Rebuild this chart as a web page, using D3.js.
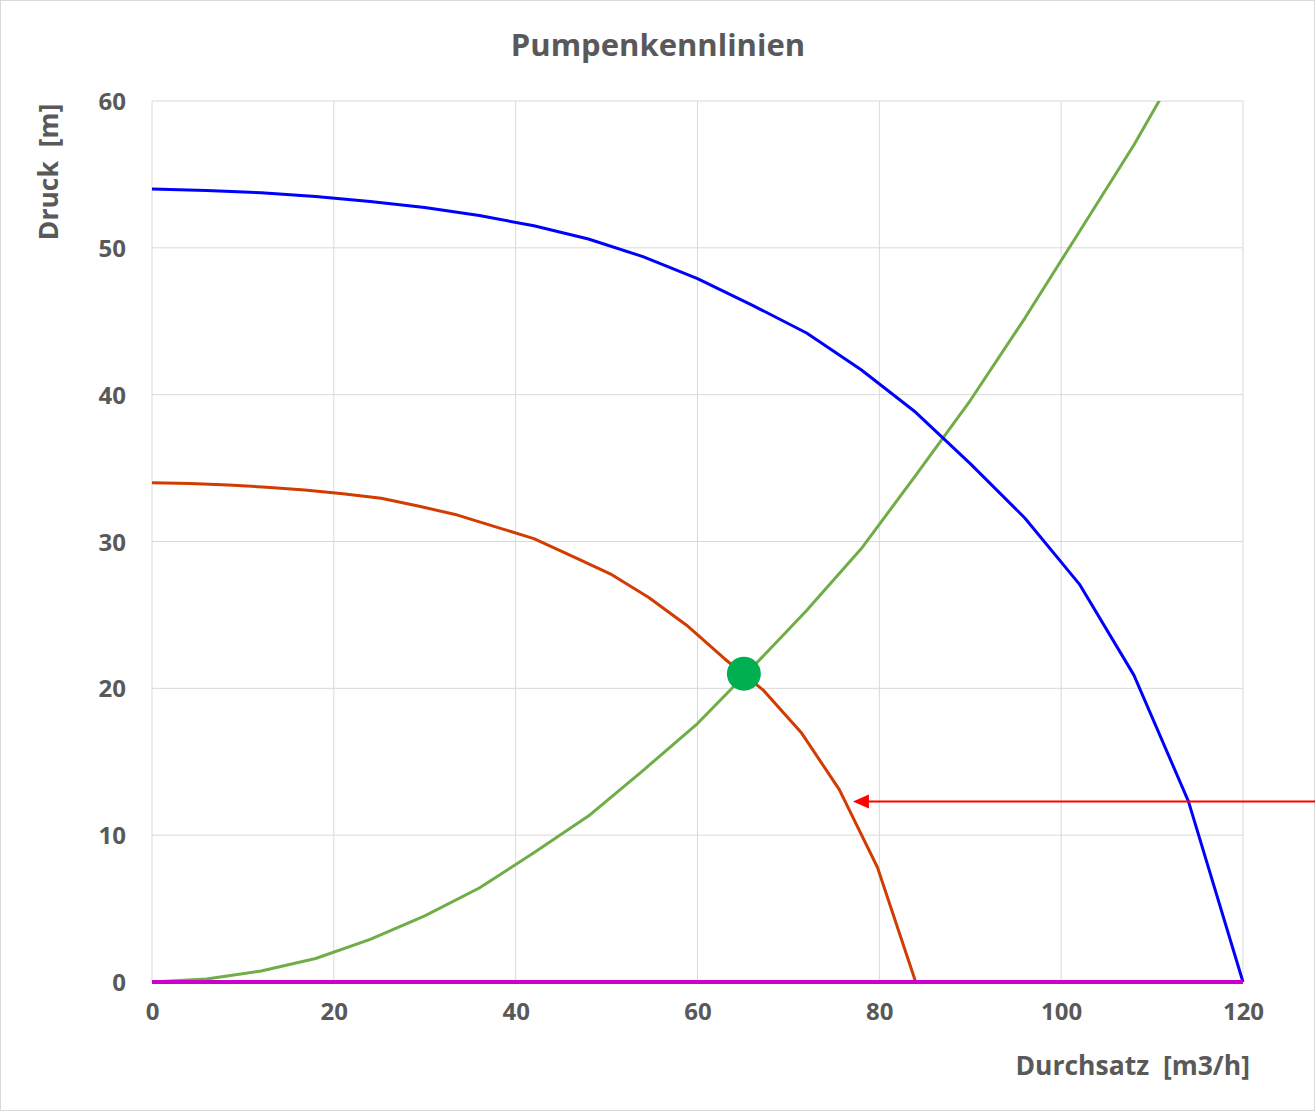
<!DOCTYPE html>
<html>
<head>
<meta charset="utf-8">
<script src="https://cdn.jsdelivr.net/npm/d3@7"></script>
<style>
  html, body { margin: 0; padding: 0; background: #fff; }
  svg text { font-family: "Open Sans", "Liberation Sans", sans-serif; font-weight: bold; fill: #595959; white-space: pre; }
</style>
</head>
<body>
<script>
// ---- data ----
const blueQ = [0, 6, 12, 18, 24, 30, 36, 42, 48, 54, 60, 66, 72, 78, 84, 90, 96, 102, 108, 114, 120];
const blueH = [54, 53.9, 53.75, 53.5, 53.15, 52.75, 52.2, 51.5, 50.6, 49.4, 47.9, 46.1, 44.2, 41.7, 38.8, 35.3, 31.6, 27.1, 20.9, 12.3, 0];

const redQ = [0, 4.2, 8.4, 12.6, 16.8, 21, 25.2, 29.4, 33.6, 37.8, 42, 46.2, 50.4, 54.6, 58.8, 63, 67.2, 71.4, 75.6, 79.8, 84];
const redH = [34, 33.95, 33.85, 33.7, 33.5, 33.25, 32.95, 32.4, 31.8, 31.0, 30.2, 29.0, 27.8, 26.2, 24.3, 22.0, 19.9, 17.0, 13.1, 7.8, 0];

const greenQ = [0, 6, 12, 18, 24, 30, 36, 42, 48, 54, 60, 66, 72, 78, 84, 90, 96, 102, 108, 114];
const greenH = [0, 0.2, 0.75, 1.6, 2.9, 4.5, 6.4, 8.8, 11.3, 14.4, 17.6, 21.4, 25.3, 29.5, 34.5, 39.6, 45.2, 51.1, 57.0, 63.5];

const baseQ = [0, 120];
const baseH = [0, 0];

const operatingPoint = [65.1, 21.0];
const arrowH = 12.3;      // arrow level (m)
const arrowTipQ = 77.1;   // arrow tip (m3/h)

const xTicks = [0, 20, 40, 60, 80, 100, 120];
const yTicks = [0, 10, 20, 30, 40, 50, 60];

const title = "Pumpenkennlinien";
const xTitle = "Durchsatz  [m3/h]";
const yTitle = "Druck  [m]";

// ---- layout ----
const W = 1315, H = 1111;
const plot = { left: 152, right: 1243, top: 101, bottom: 982 };

const svg = d3.select("body").append("svg").attr("width", W).attr("height", H);
svg.append("rect").attr("x", 0.5).attr("y", 0.5).attr("width", W - 1).attr("height", H - 1)
  .attr("fill", "#fff").attr("stroke", "#D9D9D9").attr("stroke-width", 1);

const x = d3.scaleLinear().domain([0, 120]).range([plot.left, plot.right]);
const y = d3.scaleLinear().domain([0, 60]).range([plot.bottom, plot.top]);

// gridlines
const grid = svg.append("g");
grid.selectAll(".vg").data(xTicks).join("line")
  .attr("x1", d => x(d)).attr("x2", d => x(d))
  .attr("y1", plot.top).attr("y2", plot.bottom)
  .attr("stroke", "#D9D9D9").attr("stroke-width", 1);
grid.selectAll(".hg").data(yTicks).join("line")
  .attr("x1", plot.left).attr("x2", plot.right)
  .attr("y1", d => y(d)).attr("y2", d => y(d))
  .attr("stroke", "#D9D9D9").attr("stroke-width", 1);

// axes (labels only)
const xAxis = svg.append("g").attr("transform", `translate(0,${plot.bottom + 21})`)
  .call(d3.axisBottom(x).tickValues(xTicks).tickSize(0).tickPadding(0));
xAxis.select(".domain").remove();
xAxis.selectAll("text").attr("font-size", 24).attr("dy", "0.71em")
  .style("font-family", "'Open Sans', sans-serif").attr("fill", "#595959");

const yAxis = svg.append("g").attr("transform", `translate(${plot.left - 26},0)`)
  .call(d3.axisLeft(y).tickValues(yTicks).tickSize(0).tickPadding(0));
yAxis.select(".domain").remove();
yAxis.selectAll("text").attr("font-size", 24).attr("dy", "0.36em")
  .style("font-family", "'Open Sans', sans-serif").attr("fill", "#595959");

// clip
svg.append("clipPath").attr("id", "clip").append("rect")
  .attr("x", plot.left - 2).attr("y", plot.top).attr("width", plot.right - plot.left + 4).attr("height", plot.bottom - plot.top + 4);

const line = d3.line().x(d => x(d[0])).y(d => y(d[1]));
const series = [
  { q: greenQ, h: greenH, color: "#70AD47", w: 3 },
  { q: redQ, h: redH, color: "#D23C00", w: 3 },
  { q: blueQ, h: blueH, color: "#0000FF", w: 3 },
  { q: baseQ, h: baseH, color: "#CC00CC", w: 4 }
];
const lines = svg.append("g").attr("clip-path", "url(#clip)");
series.forEach(s => {
  lines.append("path").datum(d3.zip(s.q, s.h)).attr("d", line)
    .attr("fill", "none").attr("stroke", s.color).attr("stroke-width", s.w)
    .attr("stroke-linejoin", "round");
});

// operating point
svg.append("circle").attr("cx", x(operatingPoint[0])).attr("cy", y(operatingPoint[1]))
  .attr("r", 17).attr("fill", "#00B050");

// arrow
const ay = y(arrowH), tipX = x(arrowTipQ);
svg.append("line").attr("x1", W).attr("x2", tipX + 14).attr("y1", ay).attr("y2", ay)
  .attr("stroke", "#FF0000").attr("stroke-width", 2);
svg.append("path")
  .attr("d", `M${tipX},${ay} L${tipX + 16},${ay - 7} L${tipX + 16},${ay + 7} Z`)
  .attr("fill", "#FF0000");

// titles
svg.append("text").attr("x", 658).attr("y", 56).attr("text-anchor", "middle")
  .attr("font-size", 31).text(title);
svg.append("text").attr("x", 1250).attr("y", 1075).attr("text-anchor", "end")
  .attr("font-size", 26.5).text(xTitle);
svg.append("text").attr("transform", `translate(58,172) rotate(-90)`).attr("text-anchor", "middle")
  .attr("font-size", 26.5).text(yTitle);
</script>
</body>
</html>
